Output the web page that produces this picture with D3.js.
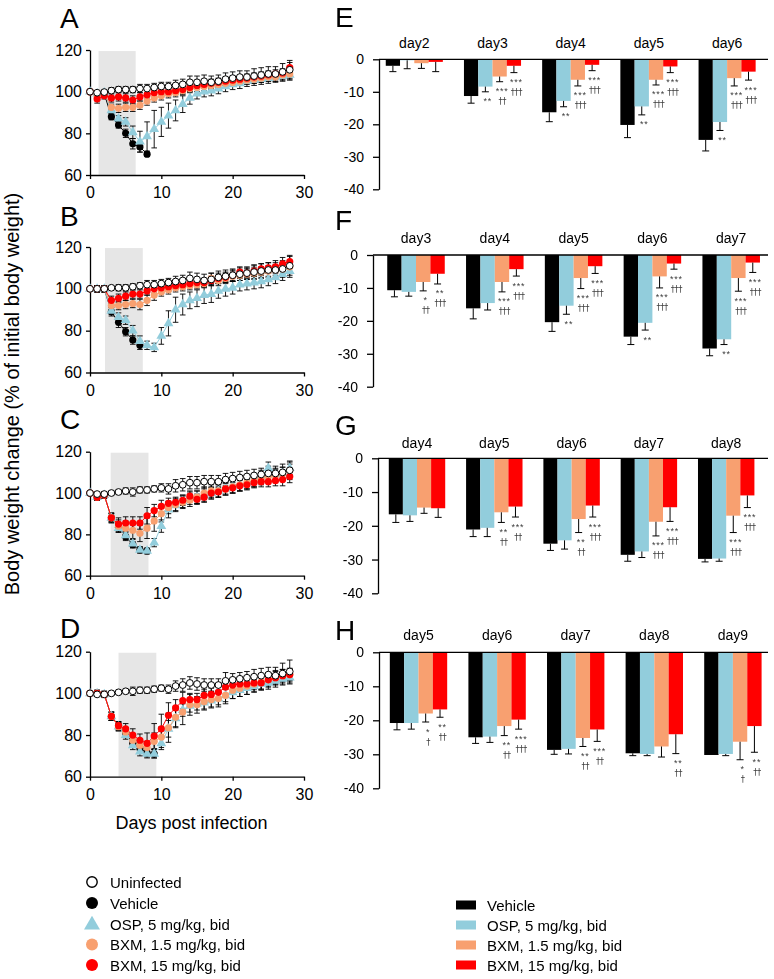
<!DOCTYPE html>
<html><head><meta charset="utf-8">
<script src="https://cdn.jsdelivr.net/npm/d3@7"></script>
<style>
body{margin:0;background:#fff}
svg{display:block}
text{font-family:"Liberation Sans",Arial,Helvetica,sans-serif}
.sig{opacity:0.99;will-change:transform}
</style>
</head><body>
<svg id="c" width="774" height="979"></svg>
<script>
// ---------------- DATA: line charts (A-D), days post infection ----------------
const days = [0,1,2,3,4,5,6,7,8,9,10,11,12,13,14,15,16,17,18,19,20,21,22,23,24,25,26,27,28];
const seriesNames = ["Uninfected","Vehicle","OSP, 5 mg/kg, bid","BXM, 1.5 mg/kg, bid","BXM, 15 mg/kg, bid"];
const seriesColors = ["#ffffff","#000000","#92CDDC","#F8A070","#FF0000"];

// Panel A
const uninfA = [100,99.5,99.8,100.5,101,101,101,101.5,101.5,102,102.5,102.5,103,103.5,104.5,104.5,105,104.5,105,106,106.5,107,107,107.5,108,108.5,108.5,109.5,110.5];
const vehA   = [100,99,99,88,84,80,75,73.5,70];
const ospA   = [100,99,99.5,91,87,85.5,80.5,76,78.5,82,85.5,88.5,91,94,97,99,100,100.5,101.5,102.5,103.5,104,105,105.5,106,106.5,107,107.5,108];
const b1A    = [100,98,99,92.5,92,92.5,92.5,93.5,95.5,97,98,99,99.5,100.5,101.5,102,102.5,103,103.5,104,104.5,105,105.5,106,106.5,107,107,108,108.5];
const b15A   = [100,96.5,98,97,97.5,97,96,97.5,98.5,99.5,100,100,100.5,101,102,103,103.5,104,104.5,105,105.5,106,106.5,107,107.5,108,108.5,109,111.5];
const uninfSdA = [0,1,1,1.5,1.5,1.5,1.5,2,2,2,2,2,2.5,2.5,3,3,3,3,3,3,3,3,3,3.5,3.5,3.5,3.5,4,4.5];
const vehSdA   = [0,1,1,1.5,1.5,2,2.5,2.5,1];
const ospSdA   = [0,1,1,1.5,1.5,2,3,5,7,9,7,6,5,4,3,2.5,2.5,2.5,2.5,2.5,2.5,2.5,2.5,2.5,2.5,2.5,2.5,2.5,2.5];
const b1SdA    = [0,1.5,1.5,1.5,2,2,2,2,2,2,2,2,2,2,2,2,2,2,2,2,2,2,2,2,2,2,2,2,2];
const b15SdA   = [0,2,1.5,2,2,2,2,2,2,2,2,2,2,2,2,2,2,2,2,2,2,2,2,2,2,2,2,2,2.5];

// Panel B
const uninfB = [100,100,100,100.5,100.5,100.5,101,101.5,102,102,102.5,103,103.5,104,105,104.5,104,104.5,105.5,106,106.5,107,107.5,108,108.5,109,109,109.5,111];
const vehB   = [100,100,100,89,84,79.5,75.5,73];
const ospB   = [100,100,100,89.5,86.5,85,80,75,73,72,77.5,83.5,90,92.5,94.5,95.5,97,97.5,99,100,100.5,102,102.5,103,103.5,104.5,105.5,107,108.5];
const b1B    = [100,100,100,92,92,92.5,93,92.5,94.5,97,98.5,99.5,100.5,101,101.5,102,102.5,105,104,105,106,106.5,107,107.5,108,108.5,109,109.5,110.5];
const b15B   = [100,100,100,94.5,95.5,96.5,97.5,97.5,99,100,100.5,101,101.5,102,102.5,103,103,104,105,105.5,106.5,108,107.5,108.5,109.5,110,110.5,112,113];
const uninfSdB = [0,1.5,1.5,1,1.5,1.5,1.5,1.5,2,2,2,2,2.5,2.5,3,3,3,3,3,3,3,3,3,3.5,3.5,3.5,3.5,4,4.5];
const vehSdB   = [0,1.5,1.5,2,2.5,2,2,2];
const ospSdB   = [0,1,1,1.5,2,2,2.5,2.5,2,2,4,6,6,5,4,4,4,4,3.5,3.5,3,3,3,3,3,3,3,3,3];
const b1SdB    = [0,1.5,1.5,2,2,2,2,2.5,2.5,2.5,2,2,2,2,2,2,2,2.5,2.5,2.5,2.5,2.5,2.5,2.5,2.5,2.5,2.5,2.5,2.5];
const b15SdB   = [0,1.5,1.5,2,2,2,2,2,2,2,2,2,2,2,2,2,2,2,2.5,2.5,2.5,2.5,2.5,2.5,2.5,2.5,3,3,3];

// Panel C
const uninfC = [100,99.5,99.5,100,100.5,101,100.5,101.5,101.5,102,102.5,102,103.5,104,105,105,105.5,105.5,105.5,106.5,107,107.5,108,108.5,109,109.5,109.5,110,111];
const vehC   = [100,98,99,88,83.5,79,75,72.5,72];
const ospC   = [100,98,99,88,83,79.5,75.5,72.5,72,76,84,92,94,96,97.5,98,99,100,101,102,103,104,105,106,108,112,109,109.5,112];
const b1C    = [100,98,99,88,84,83,82,80.5,83,86.5,90,93,94.5,95.5,96.5,98,100,101,101,102,103,104,105,106,107,108,108.5,109.5,111];
const b15C   = [100,98,99,88,85,85.5,85.5,85.5,89,91.5,93.5,95,95.5,96.5,98.5,97,98,100,100.5,102,102.5,103.5,104,105,105.5,105.5,106,106.5,108];
const uninfSdC = [0,1,1,1,1,1.5,2,1.5,1.5,1.5,2,2.5,3,3,3,3,3,3,3,3,3,3,3,3,3,3.5,3.5,4,4.5];
const vehSdC   = [0,1.5,1.5,2,2,2,1.5,1.5,1];
const ospSdC   = [0,1.5,1.5,2,2,2,2,1.5,1.5,2,3,4,3,3,3,3,3,3,3,3,3,3,3,3,3,3,3,3,3];
const b1SdC    = [0,1.5,1.5,2,3,3.5,4,4,5,5,4,3,3,3,3,3,3,3,3,3,3,3,3,3,3,3,3,3,3];
const b15SdC   = [0,1.5,1.5,2.5,3,3,3,3,4,3,3,2.5,2.5,2.5,2.5,2.5,2.5,2.5,2.5,2.5,2.5,2.5,2.5,2.5,2.5,2.5,2.5,3,3];

// Panel D
const uninfD = [100,99.5,99.5,100,100.5,101,101,101.5,101.5,102,102.5,102,103.5,104,105,104.5,104,104,104,106,106.5,107,107.5,108,108.5,109,108.5,109.5,110.5];
const vehD   = [100,100,99.5,89,84.5,81,76,73.5,71.5,71];
const ospD   = [100,100,99.5,89,84,80,75,72,71,71,76,83,88,92,94,95,95.5,96.5,97.5,99,100.5,101.5,102.5,103.5,104.5,105,106,107,107.5];
const b1D    = [100,100,99.5,89,84,81.5,77.5,75,74,77,79,83.5,88.5,91,94.5,94.5,96,97,97.5,99,101.5,102.5,103.5,104.5,105.5,106.5,107.5,108.5,109];
const b15D   = [100,100,99.5,89,84.5,83,80,77.5,76,79.5,83,89.5,93,96.5,97,97,99,99.5,100.5,103,104,104.5,104.5,105,105,106.5,107.5,108.5,109];
const uninfSdD = [0,1,1,1,1,1,2,1.5,1.5,1.5,1.5,2,2.5,3,3,3,3,3,3,4,3,3,3,3.5,3.5,3.5,4,5,5.5];
const vehSdD   = [0,1.5,1.5,2,2,2,2,2,2,2];
const ospSdD   = [0,1,1,2,2,2,2,2,2,2,3,4,4,3,3,3,3,3,3,3,3,3,3,3,3,3,3,3,3];
const b1SdD    = [0,1.5,1.5,2,2,2,2.5,3,3,4,5,7,5,6,5,4,4,4,4,4,4,4,4,3.5,3.5,3.5,3.5,3,3];
const b15SdD   = [0,1.5,1.5,2,2,2.5,3,3,5,6,7,6,4,4,3,3,3,3,3,3,3,3,3,3,3,3,3,3,3];

const shadeA = [1.2,6.4], shadeB = [2.1,7.4], shadeC = [2.9,8.2], shadeD = [4,9.3];
const lineYTicks = [60,80,100,120];
const lineXTicks = [0,10,20,30];

// ---------------- DATA: bar charts (E-H), change from initial weight ----------------
const barYTicks = [0,-10,-20,-30,-40];
const E_days = ["day2","day3","day4","day5","day6"];
const E_veh = [-2,-11.3,-16.3,-20.2,-24.8],   E_vehSd = [1.8,2.2,2.9,3.9,3.4];
const E_osp = [-0.3,-8.4,-12.8,-14.5,-19.3],  E_ospSd = [2.6,1.6,1.8,2.6,2.6];
const E_b1  = [-1.2,-5.3,-6.3,-6.3,-5.8],     E_b1Sd  = [1.6,1.6,1.9,1.6,2.4];
const E_b15 = [-0.8,-2,-1.7,-2.2,-3.8],       E_b15Sd = [3,2.1,1.8,1.9,2.6];
const E_ospSig = ["","**","**","**","**"];
const E_b1Sig  = ["","***|††","***|†††","***|†††","***|†††"];
const E_b15Sig = ["","***|†††","***|†††","***|†††","***|†††"];

const F_days = ["day3","day4","day5","day6","day7"];
const F_veh = [-10.7,-16.2,-20.4,-24.8,-28.4], F_vehSd = [2,3.2,2.8,2.4,2.2];
const F_osp = [-11.2,-14.6,-15.4,-20.6,-25.6], F_ospSd = [1.3,2.1,2.6,2.2,1.6];
const F_b1  = [-8.2,-8.2,-7,-6.5,-7],          F_b1Sd  = [2.7,3,3.2,3.5,4];
const F_b15 = [-5.7,-4.3,-3.4,-2.6,-2.3],      F_b15Sd = [3.1,2.1,2.2,1.7,3];
const F_ospSig = ["","","**","**","**"];
const F_b1Sig  = ["*|††","***|†††","***|†††","***|†††","***|†††"];
const F_b15Sig = ["**|†††","***|†††","***|†††","***|†††","***|†††"];

const G_days = ["day4","day5","day6","day7","day8"];
const G_veh = [-16.6,-21.1,-25.3,-28.6,-29.8], G_vehSd = [2.4,2.1,2,1.9,0.9];
const G_osp = [-16.9,-20.6,-24.3,-27.6,-29.7], G_ospSd = [1.8,2.6,2.6,1.8,0.8];
const G_b1  = [-14.6,-16,-18,-18.8,-17],       G_b1Sd  = [1.7,3,4,4.2,5];
const G_b15 = [-14.8,-14.3,-14,-14.5,-11],     G_b15Sd = [2.7,3.1,3.4,4.2,3.6];
const G_ospSig = ["","","","",""];
const G_b1Sig  = ["","**|††","**|††","***|†††","***|†††"];
const G_b15Sig = ["","***|††","***|†††","***|†††","***|†††"];

const H_days = ["day5","day6","day7","day8","day9"];
const H_veh = [-20.8,-25,-28.7,-29.7,-30.2],   H_vehSd = [2,1.8,1.3,0.7,0];
const H_osp = [-20.8,-24.8,-28.4,-29.9,-29.9], H_ospSd = [1.8,1.7,1.5,0.5,0.5];
const H_b1  = [-18,-21.7,-25.2,-27.7,-26.3],   H_b1Sd  = [2.5,2.8,2.5,3.1,5.3];
const H_b15 = [-16.8,-19.8,-22.7,-24.1,-21.7], H_b15Sd = [2.3,2.8,3.5,5.7,7.7];
const H_ospSig = ["","","","",""];
const H_b1Sig  = ["*|†","**|††","**|††","","*|†"];
const H_b15Sig = ["**|††","***|†††","***|††","**|††","**|††"];

// ---------------- DRAWING ----------------
const svg = d3.select("#c");
const lineColor = {uninf:"#000", veh:"#000", osp:seriesColors[2], b1:seriesColors[3], b15:seriesColors[4]};

function styleAxis(g, fs){
  g.selectAll("path.domain").attr("stroke","#000").attr("stroke-width",1.3);
  g.selectAll(".tick line").attr("stroke","#000").attr("stroke-width",1.3);
  g.selectAll(".tick text").attr("font-size",fs).attr("fill","#000")
    .attr("font-family",'"Liberation Sans",Arial,sans-serif');
}

const linePanels = [
  {id:"A", top:50,    bottom:175,   letterY:28,  shade:shadeA,
   s:{uninf:[uninfA,uninfSdA], veh:[vehA,vehSdA], osp:[ospA,ospSdA], b1:[b1A,b1SdA], b15:[b15A,b15SdA]}},
  {id:"B", top:247,   bottom:372.5, letterY:226, shade:shadeB,
   s:{uninf:[uninfB,uninfSdB], veh:[vehB,vehSdB], osp:[ospB,ospSdB], b1:[b1B,b1SdB], b15:[b15B,b15SdB]}},
  {id:"C", top:451.7, bottom:575.7, letterY:429, shade:shadeC,
   s:{uninf:[uninfC,uninfSdC], veh:[vehC,vehSdC], osp:[ospC,ospSdC], b1:[b1C,b1SdC], b15:[b15C,b15SdC]}},
  {id:"D", top:651.7, bottom:776.7, letterY:638, shade:shadeD,
   s:{uninf:[uninfD,uninfSdD], veh:[vehD,vehSdD], osp:[ospD,ospSdD], b1:[b1D,b1SdD], b15:[b15D,b15SdD]}}
];

const x = d3.scaleLinear().domain([0,30]).range([90,304]);

linePanels.forEach(p=>{
  const y = d3.scaleLinear().domain([60,120]).range([p.bottom,p.top]);
  const g = svg.append("g");
  g.append("rect").attr("x",x(p.shade[0])).attr("width",x(p.shade[1])-x(p.shade[0]))
    .attr("y",y(119.5)).attr("height",y(60)-y(119.5)).attr("fill","#E6E6E6");
  const ay = g.append("g").attr("transform",`translate(${x(0)},0)`)
    .call(d3.axisLeft(y).tickValues(lineYTicks).tickSize(4).tickSizeOuter(0).tickPadding(4));
  styleAxis(ay,16);
  const ax = g.append("g").attr("transform",`translate(0,${y(60)})`)
    .call(d3.axisBottom(x).tickValues(lineXTicks).tickSize(4).tickSizeOuter(0).tickPadding(8));
  styleAxis(ax,16);
  svg.append("text").attr("x",60).attr("y",p.letterY).attr("font-size",28).text(p.id);

  const order = ["veh","osp","b1","b15","uninf"];
  order.forEach(k=>{
    const [vals,sd] = p.s[k];
    const eg = g.append("g").attr("stroke","#000").attr("stroke-width",0.9);
    vals.forEach((v,i)=>{
      if(!sd[i]) return;
      const cx = x(days[i]);
      eg.append("line").attr("x1",cx).attr("x2",cx).attr("y1",y(v-sd[i])).attr("y2",y(v+sd[i]));
      [v-sd[i], v+sd[i]].forEach(e=>{
        eg.append("line").attr("x1",cx-2.8).attr("x2",cx+2.8).attr("y1",y(e)).attr("y2",y(e));
      });
    });
  });
  order.forEach(k=>{
    const vals = p.s[k][0];
    g.append("path").datum(vals)
      .attr("d", d3.line().x((v,i)=>x(days[i])).y(v=>y(v)))
      .attr("fill","none").attr("stroke",lineColor[k]).attr("stroke-width",1);
  });
  order.forEach(k=>{
    const vals = p.s[k][0];
    const mg = g.append("g");
    vals.forEach((v,i)=>{
      const cx = x(days[i]), cy = y(v);
      if(k==="osp"){
        mg.append("path").attr("d",d3.symbol(d3.symbolTriangle).size(42)())
          .attr("transform",`translate(${cx},${cy})`).attr("fill",seriesColors[2]);
      } else if(k==="uninf"){
        mg.append("circle").attr("cx",cx).attr("cy",cy).attr("r",3.4)
          .attr("fill","#fff").attr("stroke","#000").attr("stroke-width",1);
      } else {
        mg.append("circle").attr("cx",cx).attr("cy",cy).attr("r",3.6)
          .attr("fill", k==="veh"?"#000":(k==="b1"?seriesColors[3]:seriesColors[4]));
      }
    });
  });
});

svg.append("text").attr("transform","translate(19,394) rotate(-90)")
  .attr("text-anchor","middle").attr("font-size",20)
  .text("Body weight change (% of initial body weight)");
svg.append("text").attr("x",191.5).attr("y",829).attr("text-anchor","middle")
  .attr("font-size",18).text("Days post infection");

// ---------------- bar panels ----------------
const barPanels = [
  {id:"E", axisX:379, y0:59.3,  y40:189.3, c0:414.3, step:78.2, labelY:48,  letterY:27,
   cats:E_days, vals:[E_veh,E_osp,E_b1,E_b15], sds:[E_vehSd,E_ospSd,E_b1Sd,E_b15Sd], sig:[null,E_ospSig,E_b1Sig,E_b15Sig]},
  {id:"F", axisX:373, y0:255,   y40:386.7, c0:416,   step:78.8, labelY:243, letterY:230,
   cats:F_days, vals:[F_veh,F_osp,F_b1,F_b15], sds:[F_vehSd,F_ospSd,F_b1Sd,F_b15Sd], sig:[null,F_ospSig,F_b1Sig,F_b15Sig]},
  {id:"G", axisX:378, y0:458.3, y40:593.3, c0:417,   step:77.3, labelY:448, letterY:435,
   cats:G_days, vals:[G_veh,G_osp,G_b1,G_b15], sds:[G_vehSd,G_ospSd,G_b1Sd,G_b15Sd], sig:[null,G_ospSig,G_b1Sig,G_b15Sig]},
  {id:"H", axisX:379, y0:652.3, y40:788.3, c0:418.5, step:78.6, labelY:640, letterY:640,
   cats:H_days, vals:[H_veh,H_osp,H_b1,H_b15], sds:[H_vehSd,H_ospSd,H_b1Sd,H_b15Sd], sig:[null,H_ospSig,H_b1Sig,H_b15Sig]}
];
const barColors = ["#000000","#92CDDC","#F8A070","#FF0000"];
const seriesKeys = ["veh","osp","b1","b15"];

barPanels.forEach(p=>{
  const y = d3.scaleLinear().domain([-40,0]).range([p.y40,p.y0]);
  const x0 = d3.scaleBand().domain(p.cats)
    .range([p.c0 - p.step/2, p.c0 + 4.5*p.step]).paddingInner(0.27).paddingOuter(0.135);
  const x1 = d3.scaleBand().domain(seriesKeys).range([0,x0.bandwidth()]).padding(0);
  const g = svg.append("g");
  const sigG = svg.append("g").attr("class","sig");

  svg.append("text").attr("x",335).attr("y",p.letterY).attr("font-size",28).text(p.id);

  p.cats.forEach((c,ci)=>{
    seriesKeys.forEach((k,si)=>{
      const v = p.vals[si][ci];
      g.append("rect").attr("x",x0(c)+x1(k)).attr("width",x1.bandwidth())
        .attr("y",y(0)).attr("height",y(v)-y(0)).attr("fill",barColors[si]);
    });
    g.append("text").attr("x",x0(c)+x0.bandwidth()/2).attr("y",p.labelY)
      .attr("text-anchor","middle").attr("font-size",14).text(c);
  });
  p.cats.forEach((c,ci)=>{
    seriesKeys.forEach((k,si)=>{
      const v = p.vals[si][ci], sd = p.sds[si][ci];
      const cx = x0(c)+x1(k)+x1.bandwidth()/2;
      const capY = y(v-sd);
      if(sd>0){
        g.append("line").attr("x1",cx).attr("x2",cx).attr("y1",y(v)).attr("y2",capY)
          .attr("stroke","#000").attr("stroke-width",1);
        g.append("line").attr("x1",cx-3.5).attr("x2",cx+3.5).attr("y1",capY).attr("y2",capY)
          .attr("stroke","#000").attr("stroke-width",1);
      }
      const sg = p.sig[si] ? p.sig[si][ci] : "";
      if(sg){
        const parts = sg.split("|");
        const t = sigG.append("text").attr("text-anchor","middle").attr("fill","#3a3a3a");
        t.append("tspan").attr("x",cx+2.5).attr("y",capY+12.5).attr("font-size",9)
          .attr("letter-spacing",0.8).text(parts[0]);
        if(parts[1]) t.append("tspan").attr("x",cx+2.5).attr("y",capY+22.5)
          .attr("font-size",8.5).attr("letter-spacing",-0.5)
          .attr("font-family",'"DejaVu Sans",sans-serif').text(parts[1]);
      }
    });
  });
  const ay = g.append("g").attr("transform",`translate(${p.axisX},0)`)
    .call(d3.axisLeft(y).tickValues(barYTicks).tickFormat(d=>d===0?"0":String(d)).tickSize(6).tickSizeOuter(0).tickPadding(9));
  styleAxis(ay,14);
  g.append("line").attr("x1",p.axisX).attr("x2",768).attr("y1",y(0)).attr("y2",y(0))
    .attr("stroke","#000").attr("stroke-width",1.3);
});

// ---------------- legends ----------------
const legLeft = svg.append("g");
const legRowsL = [882,903,924,944.5,965];
seriesNames.forEach((n,i)=>{
  const cy = legRowsL[i], cx = 92;
  if(i===2){
    legLeft.append("path").attr("d",d3.symbol(d3.symbolTriangle).size(110)())
      .attr("transform",`translate(${cx},${cy+1})`).attr("fill",seriesColors[2]);
  } else if(i===0){
    legLeft.append("circle").attr("cx",cx).attr("cy",cy).attr("r",5.2).attr("fill","#fff")
      .attr("stroke","#000").attr("stroke-width",1.4);
  } else {
    legLeft.append("circle").attr("cx",cx).attr("cy",cy).attr("r",6).attr("fill",seriesColors[i]);
  }
  legLeft.append("text").attr("x",110).attr("y",cy+5.5).attr("font-size",15).text(n);
});
const legRight = svg.append("g");
const legRowsR = [905,925,945,965];
seriesNames.slice(1).forEach((n,i)=>{
  const cy = legRowsR[i];
  legRight.append("rect").attr("x",456).attr("y",cy-4.5).attr("width",20).attr("height",9).attr("fill",barColors[i]);
  legRight.append("text").attr("x",487).attr("y",cy+5.5).attr("font-size",15).text(n);
});
</script>
</body></html>
